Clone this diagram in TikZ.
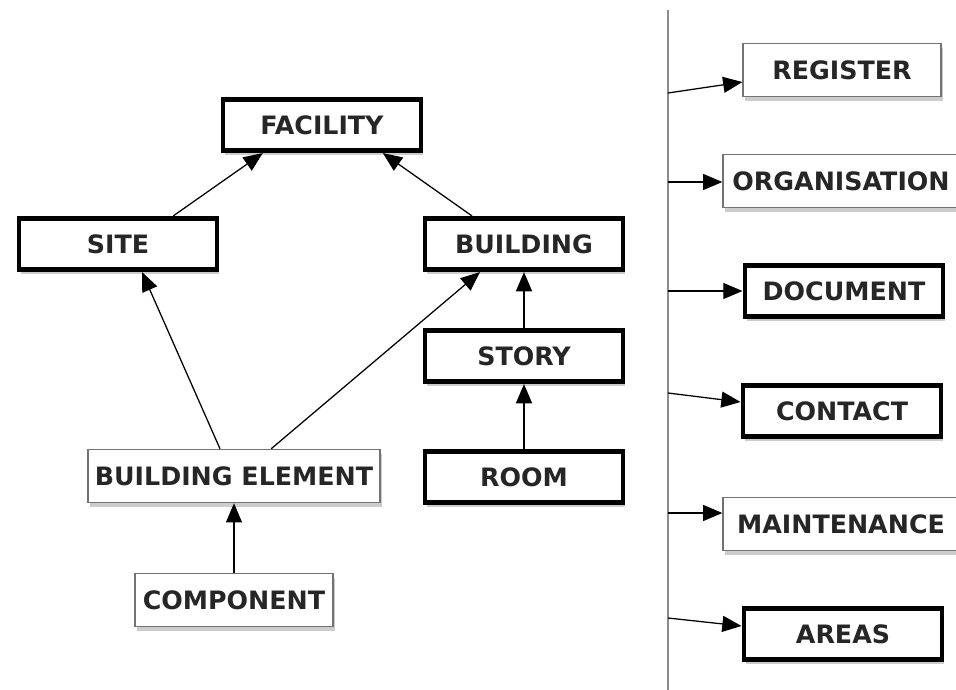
\documentclass[tikz,border=0pt]{standalone}
\usepackage{fontspec}
\setmainfont{DejaVu Sans}
\usetikzlibrary{arrows.meta,shadows}

\tikzset{
  box/.style={rectangle, fill=white, inner sep=0pt, text=black!85,
    font=\bfseries\fontsize{18}{21}\selectfont,
    drop shadow={shadow xshift=0.05cm, shadow yshift=-0.12cm, opacity=0.4}},
  heavy/.style={box, draw=black, line width=3.5pt, minimum width=4.95cm, minimum height=1.28cm},
  light/.style={box, draw=black!55, line width=0.9pt, minimum height=1.33cm},
  link/.style={-{Triangle[length=0.48cm,width=0.4cm]}, line width=0.9pt},
}

\begin{document}
\begin{tikzpicture}[x=0.025cm, y=-0.025cm]
  \useasboundingbox (0,0) rectangle (956,690);

  % hierarchy
  \node[heavy] (facility) at (322,125) {FACILITY};
  \node[heavy] (site) at (118,244) {SITE};
  \node[heavy] (building) at (524,244) {BUILDING};
  \node[heavy] (story) at (524,356) {STORY};
  \node[heavy] (room) at (524,477) {ROOM};
  \node[light, minimum width=7.3cm] (element) at (234,476) {BUILDING ELEMENT};
  \node[light, minimum width=4.95cm] (component) at (234,600) {COMPONENT};

  \draw[link] ([xshift=1.38cm]site.north) -- ([xshift=-1.48cm]facility.south);
  \draw[link] ([xshift=-1.3cm]building.north) -- ([xshift=1.52cm]facility.south);
  \draw[link] ([xshift=-0.35cm]element.north) -- ([xshift=0.6cm]site.south);
  \draw[link] ([xshift=0.93cm]element.north) -- ([xshift=-1.1cm]building.south);
  \draw[link] (story.north) -- (building.south);
  \draw[link] (room.north) -- (story.south);
  \draw[link] (component.north) -- (element.south);

  % associated objects
  \draw[black!45, line width=1.2pt] (668,10) -- (668,690);

  \node[light, minimum width=4.95cm] (register) at (842,70) {REGISTER};
  \node[light, minimum width=5.9cm] (organisation) at (841,181) {ORGANISATION};
  \node[heavy] (document) at (844,291) {DOCUMENT};
  \node[heavy] (contact) at (842,411) {CONTACT};
  \node[light, minimum width=5.9cm] (maintenance) at (841,524) {MAINTENANCE};
  \node[heavy] (areas) at (843,634) {AREAS};

  \foreach \name/\ya/\yb in {register/93/82, organisation/182/182, document/291/291,
      contact/393/402, maintenance/513/513, areas/618/626}
    \draw[link] (668,\ya) -- (\name.west |- 0,\yb);
\end{tikzpicture}
\end{document}
